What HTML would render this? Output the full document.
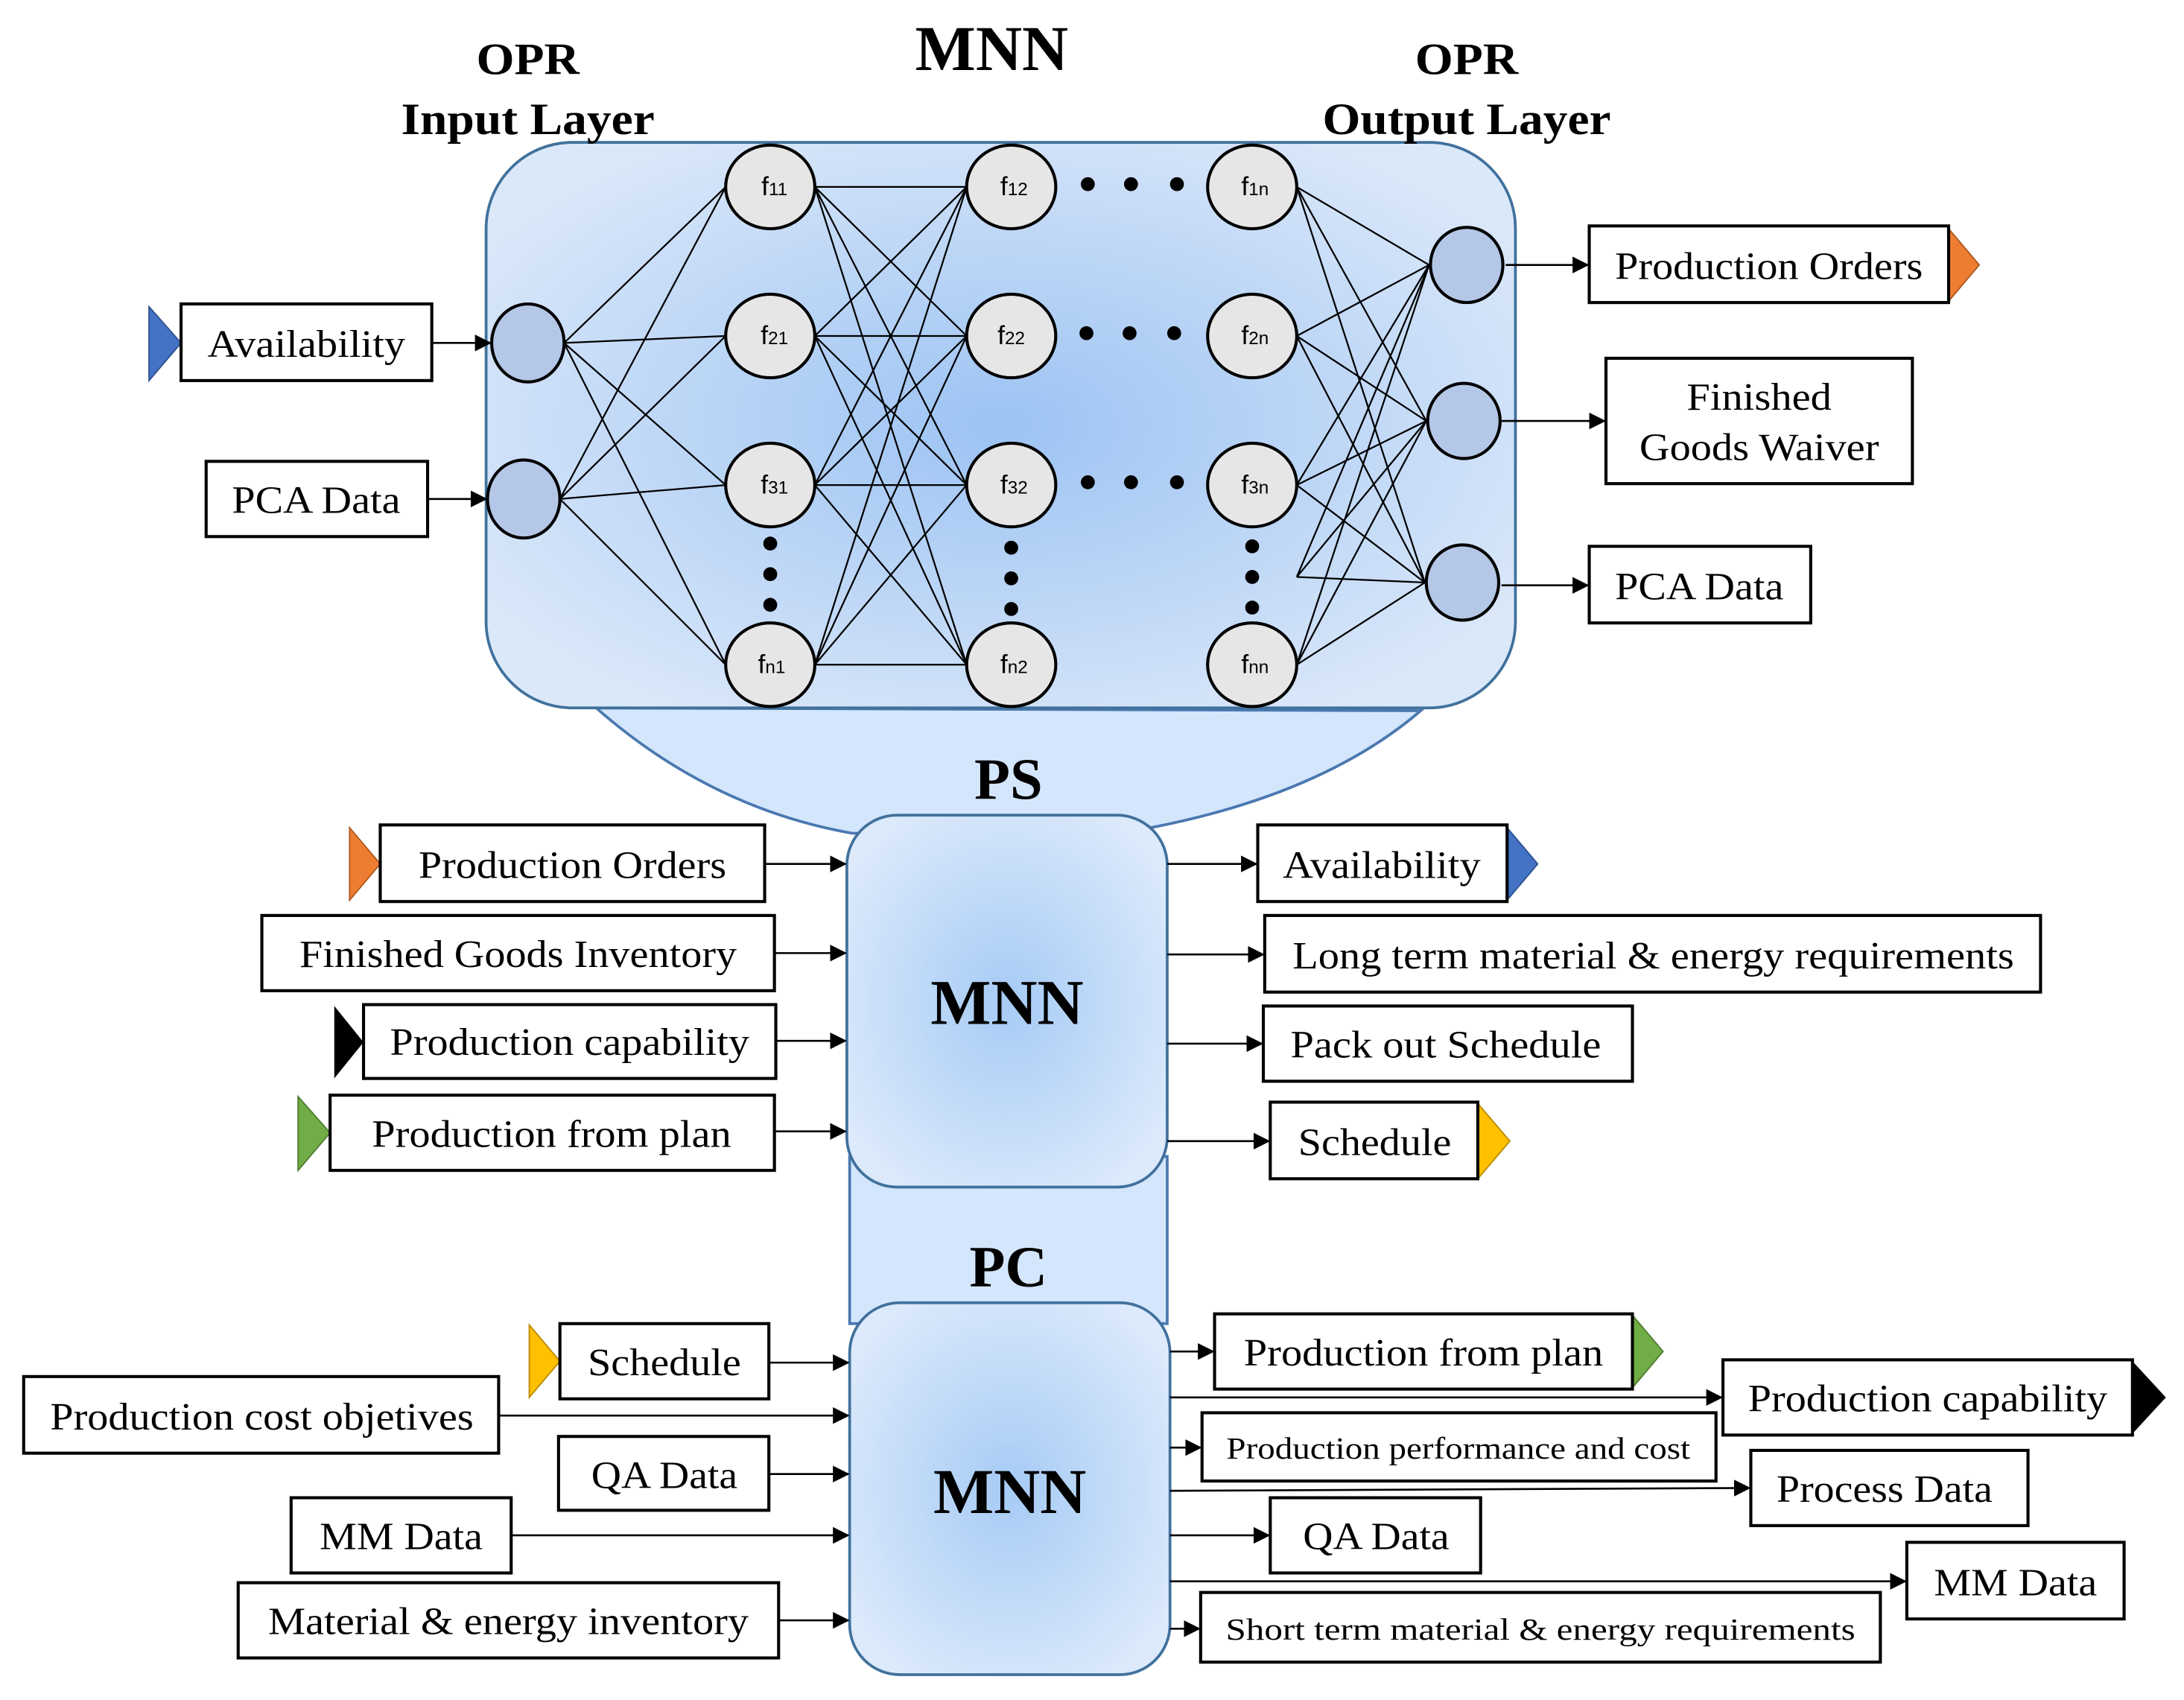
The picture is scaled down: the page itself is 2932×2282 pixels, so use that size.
<!DOCTYPE html>
<html><head><meta charset="utf-8"><style>
html,body{margin:0;padding:0;background:#fff;}
svg{display:block;}
text{font-family:"Liberation Serif",serif;}
.b{fill:#fff;stroke:#000;stroke-width:2.2;}
.t{font-size:28px;}
.s{font-size:22px;}
.n text{font-family:"Liberation Sans",sans-serif;font-size:19px;}
.sub{font-size:13px;}
.l{stroke:#000;stroke-width:1.2;fill:none;}
.a{stroke:#000;stroke-width:1.4;fill:none;marker-end:url(#ar);}
.hn{fill:#e6e6e6;stroke:#000;stroke-width:2.2;}
.io{fill:#b4c7e7;stroke:#000;stroke-width:2.2;}
</style></head><body>
<svg width="2932" height="2282" viewBox="0 0 1568 1220" xmlns="http://www.w3.org/2000/svg">
<defs>
<marker id="ar" markerWidth="12" markerHeight="12" refX="11" refY="6" orient="auto" markerUnits="userSpaceOnUse"><path d="M0,0 L12,6 L0,12 Z" fill="#000"/></marker>
<radialGradient id="g1" cx="0.5" cy="0.5" r="0.6"><stop offset="0" stop-color="#9cc3f3"/><stop offset="1" stop-color="#dbe8f9"/></radialGradient>
<radialGradient id="g2" cx="0.5" cy="0.5" r="0.6"><stop offset="0" stop-color="#a6cbf5"/><stop offset="1" stop-color="#dceafb"/></radialGradient>
</defs>

<path d="M428,508 Q510,580 612,598 L826,594 Q950,570 1020,510 Z" fill="#d4e6fb" stroke="#4a78b0" stroke-width="2"/>
<rect x="610" y="830" width="228" height="120" fill="#d4e6fb" stroke="#4a78b0" stroke-width="2"/>

<rect x="349" y="102" width="739" height="406" rx="62" fill="url(#g1)" stroke="#41719c" stroke-width="2"/>
<rect x="608" y="585" width="230" height="267" rx="36" fill="url(#g2)" stroke="#41719c" stroke-width="2"/>
<rect x="610" y="935" width="230" height="267" rx="36" fill="url(#g2)" stroke="#41719c" stroke-width="2"/>

<text x="712" y="50" text-anchor="middle" font-size="46" font-weight="bold">MNN</text>
<text x="379" y="53" text-anchor="middle" font-size="32" font-weight="bold" textLength="74" lengthAdjust="spacingAndGlyphs">OPR</text>
<text x="379" y="96" text-anchor="middle" font-size="32" font-weight="bold" textLength="182" lengthAdjust="spacingAndGlyphs">Input Layer</text>
<text x="1053" y="53" text-anchor="middle" font-size="32" font-weight="bold" textLength="74" lengthAdjust="spacingAndGlyphs">OPR</text>
<text x="1053" y="96" text-anchor="middle" font-size="32" font-weight="bold" textLength="207" lengthAdjust="spacingAndGlyphs">Output Layer</text>
<text x="724" y="573" text-anchor="middle" font-size="42" font-weight="bold">PS</text>
<text x="724" y="923" text-anchor="middle" font-size="42" font-weight="bold">PC</text>
<text x="723" y="735" text-anchor="middle" font-size="46" font-weight="bold">MNN</text>
<text x="725" y="1086" text-anchor="middle" font-size="46" font-weight="bold">MNN</text>

<g class="l">
<path d="M405,246 L521,134 M405,246 L521,241 M405,246 L521,348 M405,246 L521,477"/>
<path d="M402,358 L521,134 M402,358 L521,241 M402,358 L521,348 M402,358 L521,477"/>
<path d="M585,134 L694,134 M585,134 L694,241 M585,134 L694,348 M585,134 L694,477"/>
<path d="M585,241 L694,134 M585,241 L694,241 M585,241 L694,348 M585,241 L694,477"/>
<path d="M585,348 L694,134 M585,348 L694,241 M585,348 L694,348 M585,348 L694,477"/>
<path d="M585,477 L694,134 M585,477 L694,241 M585,477 L694,348 M585,477 L694,477"/>
<path d="M931,134 L1026,190 M931,134 L1024,302 M931,134 L1023,418"/>
<path d="M931,241 L1026,190 M931,241 L1024,302 M931,241 L1023,418"/>
<path d="M931,348 L1026,190 M931,348 L1024,302 M931,348 L1023,418"/>
<path d="M931,414 L1026,190 M931,414 L1024,302 M931,414 L1023,418"/>
<path d="M931,477 L1026,190 M931,477 L1024,302 M931,477 L1023,418"/>
</g>

<ellipse class="io" cx="379" cy="246" rx="26" ry="28"/>
<ellipse class="io" cx="376" cy="358" rx="26" ry="28"/>
<ellipse class="io" cx="1053" cy="190" rx="26" ry="27"/>
<ellipse class="io" cx="1051" cy="302" rx="26" ry="27"/>
<ellipse class="io" cx="1050" cy="418" rx="26" ry="27"/>

<g>
<ellipse class="hn" cx="553" cy="134" rx="32" ry="30"/>
<ellipse class="hn" cx="553" cy="241" rx="32" ry="30"/>
<ellipse class="hn" cx="553" cy="348" rx="32" ry="30"/>
<ellipse class="hn" cx="553" cy="477" rx="32" ry="30"/>
<ellipse class="hn" cx="726" cy="134" rx="32" ry="30"/>
<ellipse class="hn" cx="726" cy="241" rx="32" ry="30"/>
<ellipse class="hn" cx="726" cy="348" rx="32" ry="30"/>
<ellipse class="hn" cx="726" cy="477" rx="32" ry="30"/>
<ellipse class="hn" cx="899" cy="134" rx="32" ry="30"/>
<ellipse class="hn" cx="899" cy="241" rx="32" ry="30"/>
<ellipse class="hn" cx="899" cy="348" rx="32" ry="30"/>
<ellipse class="hn" cx="899" cy="477" rx="32" ry="30"/>
</g>
<g class="n" text-anchor="middle">
<text x="556" y="140">f<tspan class="sub">11</tspan></text>
<text x="556" y="247">f<tspan class="sub">21</tspan></text>
<text x="556" y="354">f<tspan class="sub">31</tspan></text>
<text x="554" y="483">f<tspan class="sub">n1</tspan></text>
<text x="728" y="140">f<tspan class="sub">12</tspan></text>
<text x="726" y="247">f<tspan class="sub">22</tspan></text>
<text x="728" y="354">f<tspan class="sub">32</tspan></text>
<text x="728" y="483">f<tspan class="sub">n2</tspan></text>
<text x="901" y="140">f<tspan class="sub">1n</tspan></text>
<text x="901" y="247">f<tspan class="sub">2n</tspan></text>
<text x="901" y="354">f<tspan class="sub">3n</tspan></text>
<text x="901" y="483">f<tspan class="sub">nn</tspan></text>
</g>
<g fill="#000">
<circle cx="781" cy="132" r="5"/><circle cx="812" cy="132" r="5"/><circle cx="845" cy="132" r="5"/>
<circle cx="780" cy="239" r="5"/><circle cx="811" cy="239" r="5"/><circle cx="843" cy="239" r="5"/>
<circle cx="781" cy="346" r="5"/><circle cx="812" cy="346" r="5"/><circle cx="845" cy="346" r="5"/>
<circle cx="553" cy="390" r="5"/><circle cx="553" cy="412" r="5"/><circle cx="553" cy="434" r="5"/>
<circle cx="726" cy="393" r="5"/><circle cx="726" cy="415" r="5"/><circle cx="726" cy="437" r="5"/>
<circle cx="899" cy="392" r="5"/><circle cx="899" cy="414" r="5"/><circle cx="899" cy="436" r="5"/>
</g>

<g class="a">
<path d="M310,246 L352,246"/>
<path d="M307,358 L349,358"/>
<path d="M1081,190 L1140,190"/>
<path d="M1078,302 L1152,302"/>
<path d="M1078,420 L1140,420"/>
<path d="M549,620 L607,620"/>
<path d="M556,684 L607,684"/>
<path d="M557,747 L607,747"/>
<path d="M556,812 L607,812"/>
<path d="M838,620 L902,620"/>
<path d="M838,685 L907,685"/>
<path d="M838,749 L906,749"/>
<path d="M838,819 L911,819"/>
<path d="M552,978 L609,978"/>
<path d="M358,1016 L609,1016"/>
<path d="M552,1058 L609,1058"/>
<path d="M367,1102 L609,1102"/>
<path d="M559,1163 L609,1163"/>
<path d="M840,970 L871,970"/>
<path d="M840,1003 L1236,1003"/>
<path d="M840,1039 L862,1039"/>
<path d="M840,1070 L1256,1068"/>
<path d="M840,1102 L911,1102"/>
<path d="M840,1135 L1368,1135"/>
<path d="M840,1169 L861,1169"/>
</g>

<path d="M107,220 L130,246 L107,273 Z" fill="#4472c4" stroke="#2f528f" stroke-width="1"/>
<path d="M1399,164 L1421,190 L1399,216 Z" fill="#ed7d31" stroke="#ae5a21" stroke-width="1"/>
<path d="M251,594 L273,620 L251,646 Z" fill="#ed7d31" stroke="#ae5a21" stroke-width="1"/>
<path d="M240,722 L261,748 L240,774 Z" fill="#000"/>
<path d="M214,787 L237,813 L214,840 Z" fill="#70ad47" stroke="#507e32" stroke-width="1"/>
<path d="M1082,594 L1104,620 L1082,646 Z" fill="#4472c4" stroke="#2f528f" stroke-width="1"/>
<path d="M1061,792 L1084,819 L1061,846 Z" fill="#ffc000" stroke="#bc8c00" stroke-width="1"/>
<path d="M380,951 L402,977 L380,1003 Z" fill="#ffc000" stroke="#bc8c00" stroke-width="1"/>
<path d="M1172,944 L1194,970 L1172,996 Z" fill="#70ad47" stroke="#507e32" stroke-width="1"/>
<path d="M1531,977 L1555,1003 L1531,1029 Z" fill="#000"/>

<rect class="b" x="130" y="218" width="180" height="55"/>
<rect class="b" x="148" y="331" width="159" height="54"/>
<rect class="b" x="1141" y="162" width="258" height="55"/>
<rect class="b" x="1153" y="257" width="220" height="90"/>
<rect class="b" x="1141" y="392" width="159" height="55"/>
<rect class="b" x="273" y="592" width="276" height="55"/>
<rect class="b" x="188" y="657" width="368" height="54"/>
<rect class="b" x="261" y="721" width="296" height="53"/>
<rect class="b" x="237" y="786" width="319" height="54"/>
<rect class="b" x="903" y="592" width="179" height="55"/>
<rect class="b" x="908" y="657" width="557" height="55"/>
<rect class="b" x="907" y="722" width="265" height="54"/>
<rect class="b" x="912" y="791" width="149" height="55"/>
<rect class="b" x="402" y="950" width="150" height="54"/>
<rect class="b" x="17" y="988" width="341" height="55"/>
<rect class="b" x="401" y="1031" width="151" height="53"/>
<rect class="b" x="209" y="1075" width="158" height="54"/>
<rect class="b" x="171" y="1136" width="388" height="54"/>
<rect class="b" x="872" y="943" width="300" height="54"/>
<rect class="b" x="1237" y="976" width="294" height="54"/>
<rect class="b" x="863" y="1014" width="369" height="49"/>
<rect class="b" x="1257" y="1041" width="199" height="54"/>
<rect class="b" x="912" y="1075" width="151" height="54"/>
<rect class="b" x="1369" y="1107" width="156" height="55"/>
<rect class="b" x="862" y="1143" width="488" height="50"/>

<g class="t" text-anchor="middle">
<text x="220" y="256" textLength="142" lengthAdjust="spacingAndGlyphs">Availability</text>
<text x="227" y="368" textLength="121" lengthAdjust="spacingAndGlyphs">PCA Data</text>
<text x="1270" y="200" textLength="221" lengthAdjust="spacingAndGlyphs">Production Orders</text>
<text x="1263" y="294" textLength="104" lengthAdjust="spacingAndGlyphs">Finished</text>
<text x="1263" y="330" textLength="172" lengthAdjust="spacingAndGlyphs">Goods Waiver</text>
<text x="1220" y="430" textLength="121" lengthAdjust="spacingAndGlyphs">PCA Data</text>
<text x="411" y="630" textLength="221" lengthAdjust="spacingAndGlyphs">Production Orders</text>
<text x="372" y="694" textLength="314" lengthAdjust="spacingAndGlyphs">Finished Goods Inventory</text>
<text x="409" y="757" textLength="258" lengthAdjust="spacingAndGlyphs">Production capability</text>
<text x="396" y="823" textLength="258" lengthAdjust="spacingAndGlyphs">Production from plan</text>
<text x="992" y="630" textLength="142" lengthAdjust="spacingAndGlyphs">Availability</text>
<text x="1187" y="695" textLength="518" lengthAdjust="spacingAndGlyphs">Long term material &amp; energy requirements</text>
<text x="1038" y="759" textLength="223" lengthAdjust="spacingAndGlyphs">Pack out Schedule</text>
<text x="987" y="829" textLength="110" lengthAdjust="spacingAndGlyphs">Schedule</text>
<text x="477" y="987" textLength="110" lengthAdjust="spacingAndGlyphs">Schedule</text>
<text x="188" y="1026" textLength="304" lengthAdjust="spacingAndGlyphs">Production cost objetives</text>
<text x="477" y="1068" textLength="105" lengthAdjust="spacingAndGlyphs">QA Data</text>
<text x="288" y="1112" textLength="117" lengthAdjust="spacingAndGlyphs">MM Data</text>
<text x="365" y="1173" textLength="345" lengthAdjust="spacingAndGlyphs">Material &amp; energy inventory</text>
<text x="1022" y="980" textLength="258" lengthAdjust="spacingAndGlyphs">Production from plan</text>
<text x="1384" y="1013" textLength="258" lengthAdjust="spacingAndGlyphs">Production capability</text>
<text x="1353" y="1078" textLength="155" lengthAdjust="spacingAndGlyphs">Process Data</text>
<text x="988" y="1112" textLength="105" lengthAdjust="spacingAndGlyphs">QA Data</text>
<text x="1447" y="1145" textLength="117" lengthAdjust="spacingAndGlyphs">MM Data</text>
</g>
<g class="s" text-anchor="middle">
<text x="1047" y="1047" textLength="333" lengthAdjust="spacingAndGlyphs">Production performance and cost</text>
<text x="1106" y="1177" textLength="452" lengthAdjust="spacingAndGlyphs">Short term material &amp; energy requirements</text>
</g>
</svg>
</body></html>
